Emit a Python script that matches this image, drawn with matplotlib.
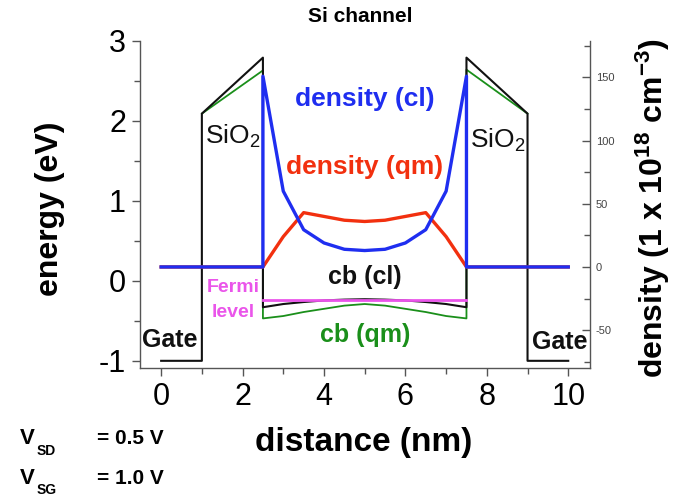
import matplotlib
matplotlib.use('Agg')
import matplotlib.pyplot as plt
from matplotlib.ticker import MultipleLocator

plt.rcParams['font.family'] = ['Liberation Sans', 'DejaVu Sans']
plt.rcParams['mathtext.fontset'] = 'custom'
plt.rcParams['mathtext.rm'] = 'Liberation Sans'
plt.rcParams['mathtext.bf'] = 'Liberation Sans:bold'
plt.rcParams['mathtext.default'] = 'bf'
plt.rcParams['axes.unicode_minus'] = False

# --- data ---
# band edges outside the channel (eV)
gate_x = [0, 1, 1]
gate_e = [-1.0, -1.0, 2.09]
ox_x = [1, 2.5]
ox_cl = [2.09, 2.79]
ox_qm = [2.09, 2.63]
ox_r_x = [7.5, 9, 9, 10]
ox_r_cl = [2.79, 2.09, -1.0, -1.0]
ox_r_qm = [2.64, 2.09]

# channel region
x_ch = [2.5, 3.0, 3.5, 4.0, 4.5, 5.0, 5.5, 6.0, 6.5, 7.0, 7.5]
cb_cl = [-0.33, -0.29, -0.265, -0.245, -0.235, -0.23, -0.235, -0.245, -0.265, -0.29, -0.33]
cb_qm = [-0.47, -0.44, -0.39, -0.35, -0.31, -0.29, -0.31, -0.35, -0.39, -0.44, -0.47]
dens_cl = [151, 60, 29.5, 19, 14, 13, 14, 19, 29.5, 60, 151]
dens_qm = [0, 24, 43, 40, 37, 36, 37, 40, 43, 24, 0]
fermi_x = [2.5, 7.5]
fermi_e = [-0.245, -0.245]
# density is zero outside the channel
out_l_x, out_r_x = [0, 2.5], [7.5, 10]
out_d = [0, 0]

BLACK = '#111111'
GREEN = '#1a8f1a'
BLUE = '#1f2ef0'
RED = '#f2300f'
MAGENTA = '#ea55ea'
AXCOL = '#555555'

fig = plt.figure(figsize=(6.73, 4.98), dpi=100)
ax = fig.add_axes([0.208, 0.261, 0.669, 0.657])
ax2 = ax.twinx()

# energy (left axis)
ax.plot(ox_x + x_ch + ox_r_x[:2], ox_qm + cb_qm + ox_r_qm, color=GREEN, lw=1.3)
ax.plot(gate_x + ox_x[1:] + x_ch + ox_r_x,
        gate_e + ox_cl[1:] + cb_cl + ox_r_cl, color=BLACK, lw=1.5)
ax.plot(fermi_x, fermi_e, color=MAGENTA, lw=2)

# density (right axis)
ax2.plot(out_l_x + x_ch + out_r_x, out_d + dens_qm + out_d, color=RED, lw=2.4)
ax2.plot(out_l_x + x_ch + out_r_x, out_d + dens_cl + out_d, color=BLUE, lw=2.4)

ax.set_xlim(-0.52, 10.54)
ax.set_ylim(-1.09, 3.0)
ax2.set_ylim(-80, 179)

ax.xaxis.set_major_locator(MultipleLocator(2))
ax.xaxis.set_minor_locator(MultipleLocator(1))
ax.yaxis.set_major_locator(MultipleLocator(1))
ax.yaxis.set_minor_locator(MultipleLocator(0.5))
ax2.yaxis.set_major_locator(MultipleLocator(50))
ax2.yaxis.set_minor_locator(MultipleLocator(25))

for a in (ax, ax2):
    a.spines['top'].set_visible(False)
    for s in a.spines.values():
        s.set_color(AXCOL)
        s.set_linewidth(1.0)
ax.spines['right'].set_visible(False)
ax2.spines['left'].set_visible(False)
ax2.spines['bottom'].set_visible(False)

ax.tick_params(axis='both', which='major', direction='out', length=6, width=1,
               color=AXCOL, labelsize=22, pad=4)
ax.tick_params(axis='both', which='minor', direction='out', length=4, width=1,
               color=AXCOL)
ax2.tick_params(axis='y', which='major', direction='in', length=6, width=1,
                color=AXCOL, labelsize=8, labelcolor='#444444', pad=4)
ax2.tick_params(axis='y', which='minor', direction='in', length=4, width=1,
                color=AXCOL)

# axis titles
fig.text(0.541, 0.112, 'distance (nm)', fontsize=24, fontweight='bold',
         ha='center', va='center')
fig.text(0.074, 0.580, 'energy (eV)', fontsize=23, fontweight='bold',
         rotation=90, ha='center', va='center')
fig.text(0.998, 0.582, r'density (1 x 10$^{18}$ cm$^{-3}$)', fontsize=23,
         fontweight='bold', rotation=90, ha='right', va='center')

fig.text(0.535, 0.966, 'Si channel', ha='center', va='center',
         fontsize=15, fontweight='bold')

# in-plot labels
ax.text(5.0, 2.27, 'density (cl)', color=BLUE, fontsize=19, fontweight='bold',
        ha='center', va='center')
ax.text(5.0, 1.42, 'density (qm)', color=RED, fontsize=19, fontweight='bold',
        ha='center', va='center')
ax.text(5.0, 0.05, 'cb (cl)', color=BLACK, fontsize=18, fontweight='bold',
        ha='center', va='center')
ax.text(5.0, -0.68, 'cb (qm)', color=GREEN, fontsize=18, fontweight='bold',
        ha='center', va='center')
ax.text(1.77, -0.08, 'Fermi', color=MAGENTA, fontsize=14, fontweight='bold',
        ha='center', va='center')
ax.text(1.77, -0.39, 'level', color=MAGENTA, fontsize=14, fontweight='bold',
        ha='center', va='center')
ax.text(-0.47, -0.74, 'Gate', color=BLACK, fontsize=18, fontweight='bold',
        ha='left', va='center')
ax.text(10.47, -0.76, 'Gate', color=BLACK, fontsize=18, fontweight='bold',
        ha='right', va='center')
ax.text(1.08, 1.80, r'SiO$_\mathregular{2}$', color=BLACK, fontsize=19,
        ha='left', va='center')
ax.text(7.59, 1.76, r'SiO$_\mathregular{2}$', color=BLACK, fontsize=19,
        ha='left', va='center')

# bias conditions
for y, ys, sub, val in [(0.120, 0.094, 'SD', '= 0.5 V'),
                        (0.040, 0.016, 'SG', '= 1.0 V')]:
    fig.text(0.030, y, 'V', fontsize=16, fontweight='bold', va='center')
    fig.text(0.055, ys, sub, fontsize=10, fontweight='bold', va='center')
    fig.text(0.144, y, val, fontsize=15, fontweight='bold', va='center')

fig.savefig('out.png', dpi=100)
